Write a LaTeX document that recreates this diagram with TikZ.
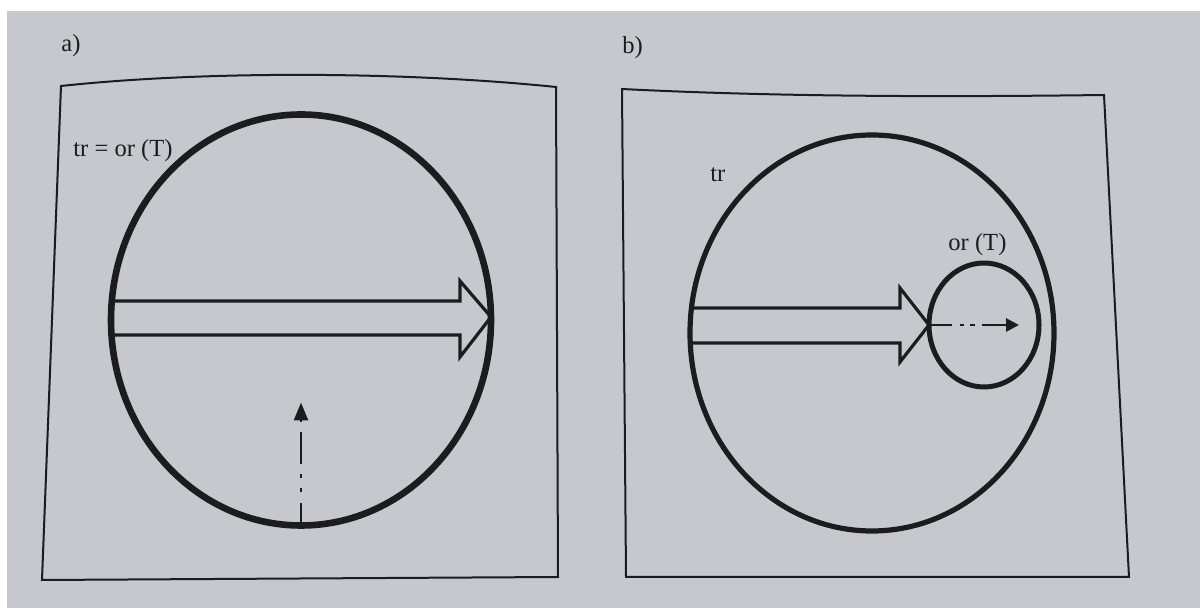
\documentclass[tikz,border=0pt]{standalone}
\usepackage{fontspec}
\setmainfont{Liberation Serif}
\usepackage{tikz}
\usetikzlibrary{arrows.meta,positioning,calc,shapes}
\definecolor{pagegrey}{RGB}{199,200,205}
\definecolor{inkblack}{RGB}{28,28,30}

\begin{document}
\begin{tikzpicture}[
			x=0.5pt, y=-0.5pt,
			frame/.style={draw=inkblack, line width=1pt, line join=miter},
			ring/.style={ellipse, draw=inkblack, inner sep=0pt, outer sep=0pt},
			tag/.style={inner sep=0pt, anchor=base west, text=inkblack, font=\fontsize{12.3}{14}\selectfont},
			fat/.style={draw=inkblack, line width=1.6pt, line join=miter},
			flow/.style={draw=inkblack, line width=1.4pt}
			]
			% Page
			\useasboundingbox (0,0) rectangle (1200,608);
			\fill[pagegrey] (0,0) rectangle (1200,608);
			\fill[white] (0,0) rectangle (1200,11);
			\fill[white] (0,0) rectangle (7,608);
			
			% Panel a
			\node[tag] (capa) at (61,52) {a)};
			\draw[frame] (61,86) .. controls (200,71) and (400,71) .. (556,87) -- (558,577) -- (42,580) -- cycle;
			\node[ring, line width=3.3pt, minimum width=190pt, minimum height=205.5pt] (tra) at (301,320) {};
			\node[tag] (tralabel) at (73,157) {tr = or (T)};
			\coordinate (atip) at ($(tra.south)+(0,-123)$);
			
			% Panel b
			\node[tag] (capb) at (622,54) {b)};
			\draw[frame] (622,89) .. controls (780,97) and (950,97) .. (1104,95) -- (1129,577) -- (626,577) -- cycle;
			\node[ring, line width=2.6pt, minimum width=182pt, minimum height=198pt] (trb) at (872,333) {};
			\node[ring, line width=2.5pt, minimum width=55pt, minimum height=62pt] (orb) at (984,325) {};
			\node[tag] (trblabel) at (710,182) {tr};
			\node[tag] (orblabel) at (948,251) {or (T)};
			\coordinate (bstart) at (trb.west |- orb.west);
			\coordinate (btip) at ($(orb.west)+(90,0)$);
			
			% Arrows
			\draw[fat] ($(tra.west)+(0,-19)$) -- ($(tra.east)+(-31,-19)$) -- ($(tra.east)+(-31,-39)$)
				-- ($(tra.east)+(0,-3)$) -- ($(tra.east)+(-31,37)$) -- ($(tra.east)+(-31,15)$) -- ($(tra.west)+(0,15)$);
			\draw[fat] ($(bstart)+(0,-17)$) -- ($(orb.west)+(-29,-17)$) -- ($(orb.west)+(-29,-37)$)
				-- (orb.west) -- ($(orb.west)+(-29,37)$) -- ($(orb.west)+(-29,18)$) -- ($(bstart)+(0,18)$);
			\draw[flow, -{Triangle[length=9pt,width=7pt]},
				dash pattern={on 11pt off 5.5pt on 2.2pt off 5pt on 2.2pt off 5pt on 16pt off 5pt}] (tra.south) -- (atip);
			\draw[flow, -{Triangle[length=6.5pt,width=6.5pt]},
				dash pattern={on 11.5pt off 4pt on 2.2pt off 3pt on 2.2pt off 3.5pt on 12pt off 3pt}] (orb.west) -- (btip);
		\end{tikzpicture}
\end{document}
